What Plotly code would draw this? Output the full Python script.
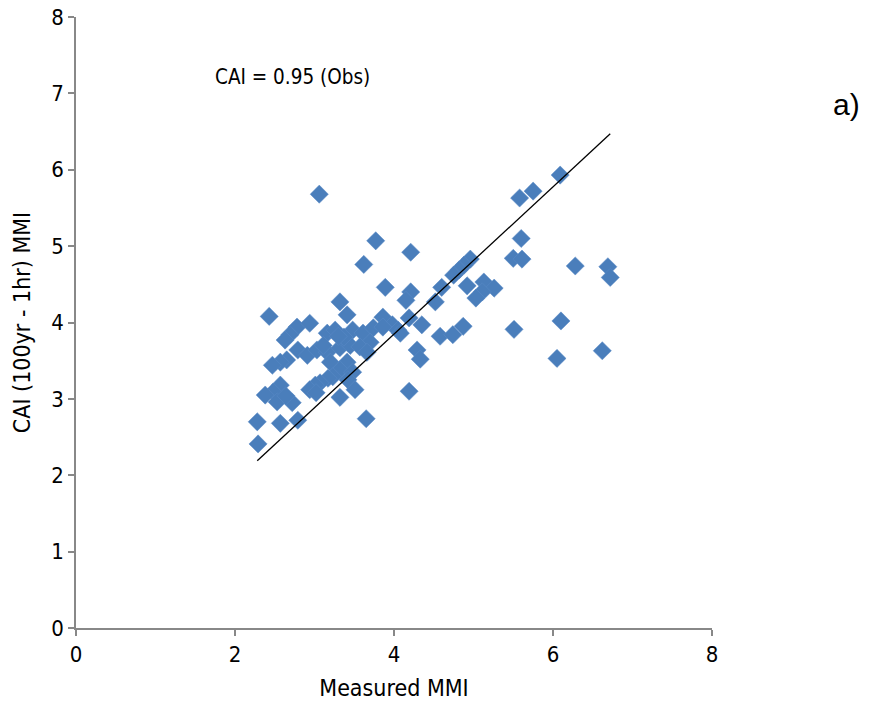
import plotly.graph_objects as go

measured_mmi = [
    3.06, 6.09, 5.75, 5.58, 5.60, 5.50, 5.61, 3.77, 4.21, 3.62, 6.28, 6.69, 6.72,
    4.96, 4.88, 4.82, 4.75, 4.92, 4.60, 5.13, 5.26, 5.11, 5.03, 3.89, 4.21, 4.15,
    4.52, 4.19, 4.35, 4.87, 4.58, 4.74, 5.51, 6.10, 4.29, 4.33, 6.05, 6.62, 4.19,
    3.65, 3.86, 3.98, 4.05, 3.32, 3.41, 2.43, 2.78, 2.94, 2.69, 2.63, 3.16, 3.26,
    3.48, 3.61, 3.74, 3.86, 4.08, 3.70, 2.79, 2.91, 2.65, 2.57, 2.47, 3.03, 3.16,
    3.32, 3.45, 3.57, 3.66, 3.20, 3.41, 3.32, 3.48, 3.23, 3.42, 3.17, 3.51, 3.32,
    3.07, 3.01, 2.94, 3.02, 2.57, 2.48, 2.38, 2.53, 2.72, 2.28, 2.57, 2.79, 2.29,
    3.11, 3.37, 3.30, 2.64,
]
cai_mmi = [
    5.68, 5.93, 5.72, 5.63, 5.10, 4.84, 4.83, 5.07, 4.92, 4.76, 4.74, 4.73, 4.59,
    4.83, 4.75, 4.69, 4.62, 4.48, 4.46, 4.53, 4.45, 4.40, 4.32, 4.46, 4.40, 4.29,
    4.27, 4.06, 3.97, 3.95, 3.82, 3.84, 3.91, 4.02, 3.64, 3.52, 3.53, 3.63, 3.10,
    2.74, 4.07, 3.97, 3.90, 4.27, 4.10, 4.08, 3.94, 3.99, 3.84, 3.77, 3.86, 3.90,
    3.90, 3.86, 3.93, 3.94, 3.86, 3.74, 3.64, 3.57, 3.51, 3.48, 3.44, 3.64, 3.61,
    3.67, 3.70, 3.68, 3.61, 3.48, 3.48, 3.38, 3.35, 3.29, 3.25, 3.27, 3.12, 3.02,
    3.21, 3.18, 3.12, 3.08, 3.18, 3.09, 3.05, 2.96, 2.95, 2.70, 2.68, 2.72, 2.41,
    3.70, 3.81, 3.82, 3.04,
]

line_x = [2.28, 6.72]
line_y = [2.19, 6.47]

x_ticks = [0, 2, 4, 6, 8]
y_ticks = [0, 1, 2, 3, 4, 5, 6, 7, 8]

FONT = "DejaVu Sans Condensed, Liberation Sans Narrow, Liberation Sans, Arial, sans-serif"

# page body has an 8px margin; compensate so no scrollbars appear
W, H = 854, 695
L, T = 68, 9
PW, PH = 636, 611
fig = go.Figure()
fig.add_trace(go.Scatter(
    x=measured_mmi, y=cai_mmi, mode="markers",
    marker=dict(symbol="diamond", size=14, color="#4A7EBB",
                line=dict(color="#5B8BC6", width=0.5)),
    showlegend=False,
))
fig.add_trace(go.Scatter(
    x=line_x, y=line_y, mode="lines",
    line=dict(color="black", width=1.3), showlegend=False,
))

axis_common = dict(
    showline=True, linecolor="#888888", linewidth=1.5,
    ticks="outside", tickcolor="#888888", ticklen=6, tickwidth=1.5,
    showgrid=False, zeroline=False, automargin=False,
    ticklabeloverflow="allow",
    tickfont=dict(family=FONT, size=22, color="black"),
)
fig.update_xaxes(range=[0, 8], tickvals=x_ticks,
                 title=dict(text="Measured MMI", font=dict(family=FONT, size=23, color="black"), standoff=14),
                 **axis_common)
fig.update_yaxes(range=[0, 8], tickvals=y_ticks,
                 title=dict(text="CAI (100yr - 1hr) MMI", font=dict(family=FONT, size=23, color="black"), standoff=14),
                 **axis_common)

fig.add_annotation(x=2.72, y=7.22, xref="x", yref="y", text="CAI = 0.95 (Obs)",
                   showarrow=False, font=dict(family=FONT, size=20.5, color="black"))
fig.add_annotation(x=(W - L) / PW, y=(628 - 105) / PH,
                   xref="paper", yref="paper", text="a)", xanchor="right", yanchor="middle",
                   showarrow=False, font=dict(family="Liberation Sans, Arial, sans-serif", size=30, color="black"))

fig.update_layout(
    width=W, height=H,
    margin=dict(l=L, r=W - L - PW, t=T, b=H - T - PH, autoexpand=False),
    plot_bgcolor="white", paper_bgcolor="white",
)

fig.write_html("out.html")
